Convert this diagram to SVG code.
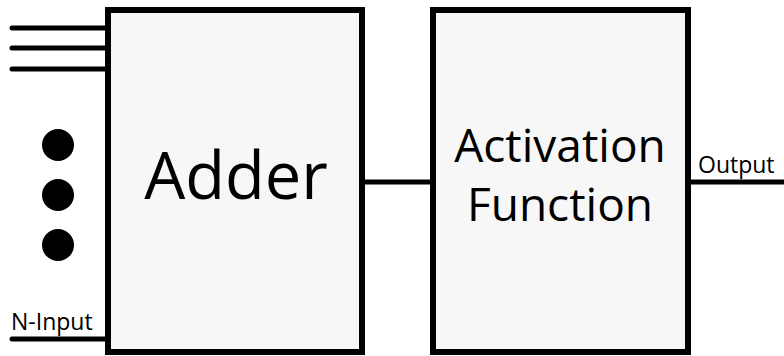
<svg xmlns="http://www.w3.org/2000/svg" width="784" height="356" viewBox="0 0 784 356">
  <style>
    .box { fill: #f7f7f7; stroke: #000; stroke-width: 6; }
    .wire { stroke: #000; stroke-width: 5; fill: none; stroke-linecap: round; }
    .big { font-family: "Open Sans", "Liberation Sans", sans-serif; fill: #000; text-anchor: middle; }
    .small { font-family: "Open Sans", "Liberation Sans", sans-serif; font-size: 23px; fill: #000; }
  </style>
  <rect width="784" height="356" fill="#fff"/>
  <g id="connectors">
    <line class="wire" x1="12" y1="28" x2="106" y2="28"/>
    <line class="wire" x1="12" y1="48" x2="106" y2="48"/>
    <line class="wire" x1="12" y1="69" x2="106" y2="69"/>
    <line class="wire" x1="12" y1="339" x2="106" y2="339"/>
    <line class="wire" x1="362" y1="182" x2="433" y2="182" stroke-linecap="butt"/>
    <line class="wire" x1="688" y1="182" x2="784" y2="182" stroke-linecap="butt"/>
  </g>
  <g id="inputs-ellipsis">
    <circle cx="58" cy="145" r="16"/>
    <circle cx="58" cy="195" r="16"/>
    <circle cx="58" cy="245" r="16"/>
  </g>
  <g id="adder">
    <rect class="box" x="108" y="10" width="254" height="342"/>
    <text class="big" x="236" y="199" font-size="65">Adder</text>
  </g>
  <g id="activation">
    <rect class="box" x="433" y="10" width="255" height="342"/>
    <text class="big" x="560" y="162" font-size="46">Activation</text>
    <text class="big" x="560" y="221" font-size="46">Function</text>
  </g>
  <text class="small" x="698" y="173">Output</text>
  <text class="small" x="11" y="330">N-Input</text>
</svg>
